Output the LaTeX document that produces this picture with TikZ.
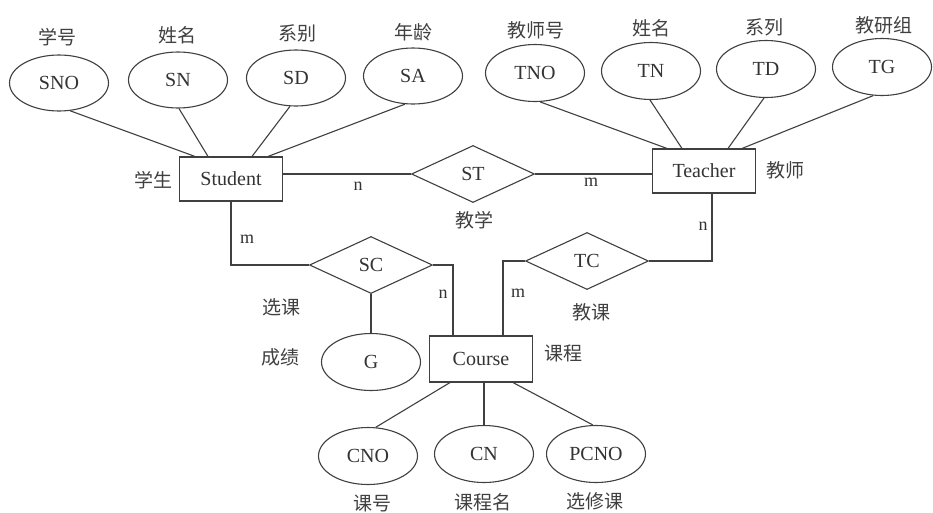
\documentclass[tikz,border=0pt]{standalone}
\usepackage{fontspec}
\setmainfont{Liberation Serif}
\newfontfamily\cjk{Noto Sans CJK SC}
\usetikzlibrary{shapes.geometric,calc}
\begin{document}
\begin{tikzpicture}[x=1pt,y=-1pt,
  every node/.style={text=black!80, font=\fontsize{20}{22}\selectfont},
  attr/.style={ellipse, draw=black!75, line width=1.1pt, minimum width=99pt, minimum height=56pt, inner sep=0pt},
  ent/.style={rectangle, draw=black!75, line width=1.1pt, minimum width=103pt, minimum height=44pt, inner sep=0pt},
  rel/.style={diamond, draw=black!75, line width=1.1pt, minimum width=123pt, minimum height=57pt, inner sep=0pt},
  lbl/.style={font=\cjk\fontsize{19}{21}\selectfont, inner sep=0pt, text=black!75},
  card/.style={font=\fontsize{18}{20}\selectfont, inner sep=0pt},
  conn/.style={draw=black!75, line width=1.1pt}]
\fill[white] (0,0) rectangle (933,512);
\useasboundingbox (0,0) rectangle (933,512);

% entities
\node[ent] (Student) at (231,179) {Student};
\node[ent] (Teacher) at (704,171) {Teacher};
\node[ent, minimum height=46pt] (Course) at (481,359) {Course};

% relationships
\node[rel] (ST) at (473,174) {ST};
\node[rel] (SC) at (371,265) {SC};
\node[rel] (TC) at (587,261) {TC};

% student attributes
\node[attr] (SNO) at (59,83) {SNO};
\node[attr] (SN) at (178,80) {SN};
\node[attr] (SD) at (296,78) {SD};
\node[attr] (SA) at (413,76) {SA};
% teacher attributes
\node[attr, minimum height=57pt] (TNO) at (535,73) {TNO};
\node[attr, minimum height=57pt] (TN) at (651,71) {TN};
\node[attr, minimum height=57pt] (TD) at (766,69) {TD};
\node[attr, minimum height=57pt] (TG) at (882,67) {TG};
% course attributes
\node[attr, minimum height=57pt] (CNO) at (368,456) {CNO};
\node[attr, minimum height=57pt] (CN) at (484,454) {CN};
\node[attr, minimum height=57pt] (PCNO) at (596,454) {PCNO};
% SC attribute
\node[attr, minimum height=57pt] (G) at (371,362) {G};

% Chinese labels
\node[lbl] (l1) at (57,37) {学号};
\node[lbl] (l2) at (177,35) {姓名};
\node[lbl] (l3) at (297,33) {系别};
\node[lbl] (l4) at (413,32) {年龄};
\node[lbl] (l5) at (536,30) {教师号};
\node[lbl] (l6) at (651,28) {姓名};
\node[lbl] (l7) at (764,27) {系列};
\node[lbl] (l8) at (884,25) {教研组};
\node[lbl] (l9) at (153,180) {学生};
\node[lbl] (l10) at (785,170) {教师};
\node[lbl] (l11) at (474,220) {教学};
\node[lbl] (l12) at (281,307) {选课};
\node[lbl] (l13) at (280,357) {成绩};
\node[lbl] (l14) at (563,353) {课程};
\node[lbl] (l15) at (591,312) {教课};
\node[lbl] (l16) at (372,503) {课号};
\node[lbl] (l17) at (483,502) {课程名};
\node[lbl] (l18) at (595,501) {选修课};

% cardinalities
\node[card] (c1) at (358,186) {n};
\node[card] (c2) at (591,182) {m};
\node[card] (c3) at (247,239) {m};
\node[card] (c4) at (443,294) {n};
\node[card] (c5) at (518,293) {m};
\node[card] (c6) at (703,226) {n};

% attribute connectors
\draw[conn] (SNO.-68) -- ($(Student.north)+(-36,0)$);
\draw[conn] (SN.-88) -- ($(Student.north)+(-23,0)$);
\draw[conn] (SD.-102) -- ($(Student.north)+(21,0)$);
\draw[conn] (SA.-106) -- ($(Student.north)+(37,0)$);
\draw[conn] (TNO.-80) -- ($(Teacher.north)+(-37,0)$);
\draw[conn] (TN.-92) -- ($(Teacher.north)+(-22,0)$);
\draw[conn] (TD.-94) -- ($(Teacher.north)+(24,0)$);
\draw[conn] (TG.-107) -- ($(Teacher.north)+(38,0)$);
\draw[conn] (CNO.75) -- ($(Course.south)+(-31,0)$);
\draw[conn] (CN.north) -- (CN.north |- Course.south);
\draw[conn] (PCNO.96) -- ($(Course.south)+(32,0)$);
\draw[conn] (SC.south) -- (G.north);

% relationship connectors
\draw[conn] (ST.west) -- (ST.west -| Student.east);
\draw[conn] (ST.east) -- (ST.east -| Teacher.west);
\draw[conn] (Student.south) |- (SC.west);
\draw[conn] (SC.east) -| ($(Course.north)+(-28,0)$);
\draw[conn] (TC.west) -| ($(Course.north)+(22,0)$);
\draw[conn] ($(Teacher.south)+(8,0)$) |- (TC.east);
\end{tikzpicture}
\end{document}
